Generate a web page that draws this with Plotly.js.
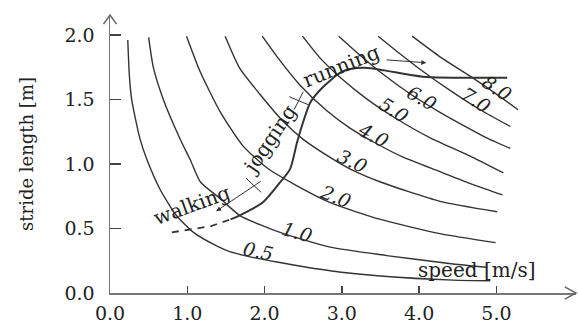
<!DOCTYPE html>
<html>
<head>
<meta charset="utf-8">
<script src="https://cdn.plot.ly/plotly-3.0.1.min.js"></script>
<style>html,body{margin:0;padding:0;background:#fff;}#chart{width:578px;height:323px;}</style>
</head>
<body>
<div id="chart"></div>
<script>
// Iso-speed curves (speed labels)
const speedLabels = ['0.5','1.0','2.0','3.0','4.0','5.0','6.0','7.0','8.0'];
const c05x = [0.23,0.25,0.28,0.39,0.48,0.65,0.86,1.08,1.38,1.55,1.77,2.16,2.85,3.50,4.44,4.92];
const c05y = [1.96,1.69,1.50,1.19,1.03,0.80,0.60,0.47,0.365,0.32,0.286,0.24,0.172,0.132,0.10,0.095];
const c10x = [0.50,0.56,0.69,0.91,1.04,1.17,1.43,1.68,1.98,2.20,2.85,3.58,4.44,4.88];
const c10y = [1.98,1.75,1.50,1.19,1.03,0.86,0.73,0.60,0.52,0.47,0.355,0.29,0.225,0.20];
const c20x = [0.99,1.17,1.43,1.72,2.03,2.42,2.85,3.50,4.27,4.99];
const c20y = [1.99,1.71,1.40,1.14,0.97,0.83,0.70,0.57,0.46,0.39];
const c30x = [1.49,1.68,1.94,2.24,2.50,2.89,3.11,3.50,4.27,5.01];
const c30y = [1.99,1.74,1.54,1.33,1.19,1.035,0.96,0.86,0.71,0.63];
const c40x = [1.97,2.20,2.46,2.81,3.10,3.41,3.80,4.27,4.70,5.08];
const c40y = [1.99,1.80,1.61,1.41,1.28,1.17,1.05,0.94,0.84,0.76];
const c50x = [2.49,2.72,2.98,3.33,3.68,4.15,4.66,5.09];
const c50y = [1.99,1.82,1.67,1.50,1.36,1.20,1.06,0.93];
const c60x = [2.96,3.24,3.50,3.89,4.27,4.66,4.88,5.18];
const c60y = [1.99,1.84,1.71,1.54,1.40,1.27,1.20,1.12];
const c70x = [3.47,3.76,4.02,4.40,4.79,5.18];
const c70y = [1.99,1.85,1.73,1.57,1.42,1.29];
const c80x = [3.91,4.27,4.66,5.05,5.28];
const c80y = [1.99,1.83,1.68,1.52,1.42];

// Gait path (walking -> jogging -> running)
const walkDashX = [0.80,1.08,1.30,1.56];
const walkDashY = [0.47,0.494,0.517,0.571];
const gaitX = [1.56,1.68,1.98,2.20,2.33,2.42,2.51,2.59,2.76,2.98,3.11,3.30,3.55,4.05,5.14];
const gaitY = [0.571,0.602,0.703,0.857,0.96,1.166,1.344,1.475,1.598,1.707,1.735,1.745,1.725,1.676,1.668];

// Axis ticks
const xTickVals = [0,1,2,3,4,5];
const xTickText = ['0.0','1.0','2.0','3.0','4.0','5.0'];
const yTickVals = [0,0.5,1.0,1.5,2.0];
const yTickText = ['0.0','0.5','1.0','1.5','2.0'];

const curvesX = [c05x,c10x,c20x,c30x,c40x,c50x,c60x,c70x,c80x];
const curvesY = [c05y,c10y,c20y,c30y,c40y,c50y,c60y,c70y,c80y];

const lineColor = '#333333';
const textColor = '#222222';
const serif = 'DejaVu Serif';

const traces = curvesX.map((xs, i) => ({
  x: xs, y: curvesY[i], type: 'scatter', mode: 'lines', name: speedLabels[i],
  line: {color: lineColor, width: 1.4, shape: 'spline', smoothing: 0.6},
  hoverinfo: 'skip', showlegend: false
}));
traces.push({x: walkDashX, y: walkDashY, type: 'scatter', mode: 'lines',
  line: {color: lineColor, width: 1.8, dash: '7px,6px'}, hoverinfo: 'skip', showlegend: false});
traces.push({x: gaitX, y: gaitY, type: 'scatter', mode: 'lines',
  line: {color: lineColor, width: 2, shape: 'spline', smoothing: 0.7}, hoverinfo: 'skip', showlegend: false});

// speed label placement
const labelPos = [
  [1.917,0.324,12],[2.42,0.471,16],[2.915,0.749,22],[3.135,1.019,26],[3.41,1.228,28],
  [3.68,1.421,32],[4.04,1.514,30],[4.74,1.498,32],[5.01,1.591,33]
];
const annotations = speedLabels.map((t, i) => ({
  x: labelPos[i][0], y: labelPos[i][1], xref: 'x', yref: 'y', text: t, showarrow: false,
  textangle: labelPos[i][2], font: {family: serif, size: 19, color: textColor, style: 'italic'}
}));
annotations.push(
  {x: 1.06, y: 0.68, text: 'walking', showarrow: false, textangle: -20,
   font: {family: serif, size: 20, color: textColor}},
  {x: 2.07, y: 1.19, text: 'jogging', showarrow: false, textangle: -56,
   font: {family: serif, size: 20, color: textColor}},
  {x: 2.99, y: 1.76, text: 'running', showarrow: false, textangle: -22,
   font: {family: serif, size: 20, color: textColor}},
  {x: 4.74, y: 0.178, text: 'speed [m/s]', showarrow: false,
   font: {family: serif, size: 20, color: textColor}},
  // walking arrow
  {x: 1.373, y: 0.633, ax: 1.969, ay: 0.873, axref: 'x', ayref: 'y', xref: 'x', yref: 'y',
   text: '', showarrow: true, arrowhead: 2, arrowsize: 1, arrowwidth: 1, arrowcolor: lineColor},
  // running arrow
  {x: 4.093, y: 1.784, ax: 3.56, ay: 1.807, axref: 'x', ayref: 'y', xref: 'x', yref: 'y',
   text: '', showarrow: true, arrowhead: 2, arrowsize: 1, arrowwidth: 1, arrowcolor: lineColor}
);

const shapes = [
  // gait separators
  {type: 'line', xref: 'x', yref: 'y', x0: 1.762, y0: 0.888, x1: 1.956, y1: 0.780, line: {color: lineColor, width: 1}},
  {type: 'line', xref: 'x', yref: 'y', x0: 2.319, y0: 1.521, x1: 2.565, y1: 1.459, line: {color: lineColor, width: 1}},
  {type: 'line', xref: 'x', yref: 'y', x0: 2.383, y0: 1.421, x1: 2.50, y1: 1.56, line: {color: lineColor, width: 1}},
  // axis arrowheads
  {type: 'path', xref: 'paper', yref: 'paper', path: 'M 0.976 0.022 L 1 0 L 0.976 -0.022',
   line: {color: '#666', width: 1.5}},
  {type: 'path', xref: 'paper', yref: 'paper', path: 'M -0.014 0.967 L 0 1 L 0.014 0.967',
   line: {color: '#666', width: 1.5}}
];

const layout = {
  width: 578, height: 323,
  margin: {l: 110, r: 2, t: 15, b: 30, pad: 0},
  paper_bgcolor: '#fff', plot_bgcolor: '#fff',
  showlegend: false,
  xaxis: {
    range: [0, 6.03], tickvals: xTickVals, ticktext: xTickText,
    ticks: 'inside', ticklen: 7, tickwidth: 1.5, tickcolor: '#444',
    showline: true, linecolor: '#777', linewidth: 1.5, showgrid: false, zeroline: false,
    ticklabelstandoff: 3,
    tickfont: {family: serif, size: 19, color: textColor}, fixedrange: true
  },
  yaxis: {
    range: [0, 2.154], tickvals: yTickVals, ticktext: yTickText,
    ticks: 'inside', ticklen: 11, tickwidth: 1.5, tickcolor: '#444',
    showline: true, linecolor: '#777', linewidth: 1.5, showgrid: false, zeroline: false,
    ticklabelstandoff: 10,
    tickfont: {family: serif, size: 19, color: textColor}, fixedrange: true,
    title: {text: 'stride length [m]', font: {family: serif, size: 18, color: textColor}, standoff: 26}
  },
  annotations: annotations,
  shapes: shapes
};

Plotly.newPlot('chart', traces, layout, {displayModeBar: false, staticPlot: true});
</script>
</body>
</html>
